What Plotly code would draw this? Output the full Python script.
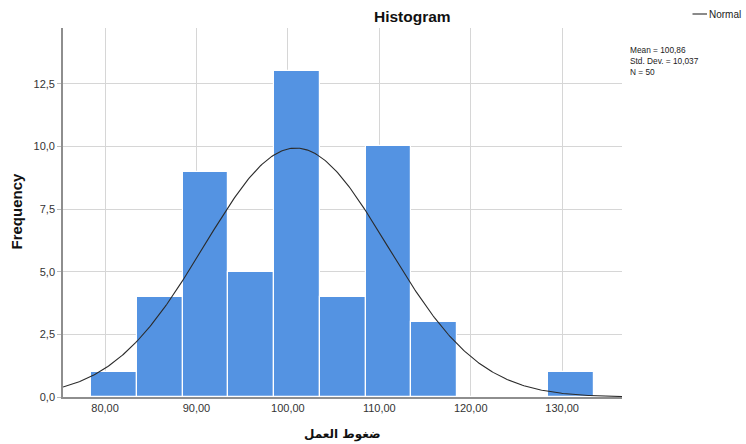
import numpy as np
import plotly.graph_objects as go

# Histogram of ضغوط العمل (bins of width 5, centred on 81, 86, ..., 131)
bin_centers = [81, 86, 91, 96, 101, 106, 111, 116, 121, 126, 131]
counts = [1, 4, 9, 5, 13, 4, 10, 3, 0, 0, 1]
bin_width = 5

mean = 100.86
std_dev = 10.037
n_obs = 50

x_ticks = [80, 90, 100, 110, 120, 130]
y_ticks = [0, 2.5, 5, 7.5, 10, 12.5]

x_range = [75.4, 136.55]
y_range = [0, 14.73]

# Normal curve scaled to the histogram counts
xs = np.linspace(x_range[0], x_range[1], 400)
ys = n_obs * bin_width * np.exp(-0.5 * ((xs - mean) / std_dev) ** 2) / (std_dev * np.sqrt(2 * np.pi))

FONT = "Liberation Sans, Arial, DejaVu Sans, sans-serif"

fig = go.Figure()
fig.add_trace(go.Bar(
    x=bin_centers, y=counts, width=bin_width,
    marker=dict(color="rgb(84,147,226)", line=dict(color="white", width=1.2)),
    showlegend=False, hoverinfo="x+y",
))
fig.add_trace(go.Scatter(
    x=xs, y=ys, mode="lines",
    line=dict(color="#2b2b2b", width=1.1),
    showlegend=False, name="Normal",
))

# Plot area in pixels: left 63, right 622, top 28, bottom 397
L, R, T, B = 63, 622, 28, 397
W, H = R - L, B - T


def px(xp):
    return (xp - L) / W


def py(yp):
    return (B - yp) / H


def comma(v, digits):
    return f"{v:.{digits}f}".replace(".", ",")


stats_text = "<br>".join([
    f"Mean = {comma(mean, 2)}",
    f"Std. Dev. = {comma(std_dev, 3)}",
    f"N = {n_obs}",
])

annotations = [
    dict(text="<b>Histogram</b>", x=px(412), y=py(16), xref="paper", yref="paper",
         showarrow=False, font=dict(size=15.5, color="#111", family=FONT),
         xanchor="center", yanchor="middle"),
    dict(text="Normal", x=px(708), y=py(14), xref="paper", yref="paper",
         showarrow=False, font=dict(size=10, color="#222", family=FONT),
         xanchor="left", yanchor="middle", borderpad=0),
    dict(text=stats_text, x=px(629), y=py(44), align="left",
         xref="paper", yref="paper", showarrow=False,
         font=dict(size=8.3, color="#222", family=FONT),
         xanchor="left", yanchor="top", borderpad=0),
    dict(text="<b>Frequency</b>", x=px(15.5), y=py(211), xref="paper", yref="paper",
         showarrow=False, textangle=-90, font=dict(size=15, color="#111", family=FONT),
         xanchor="center", yanchor="middle"),
    dict(text="<b>ضغوط العمل</b>", x=px(342), y=py(435), xref="paper", yref="paper",
         showarrow=False, font=dict(size=12, color="#111", family="DejaVu Sans, sans-serif"),
         xanchor="center", yanchor="middle"),
]

shapes = [
    # legend line sample
    dict(type="line", xref="paper", yref="paper", x0=px(692.5), x1=px(707),
         y0=py(14), y1=py(14), line=dict(color="#2b2b2b", width=1.1)),
]

fig.update_layout(
    width=746, height=444,
    margin=dict(l=L, r=746 - R, t=T, b=444 - B, pad=0),
    paper_bgcolor="white", plot_bgcolor="white",
    separators=",.",
    bargap=0,
    annotations=annotations,
    shapes=shapes,
    font=dict(family=FONT, size=11, color="#333"),
    xaxis=dict(
        range=x_range, tickvals=x_ticks, tickformat=".2f",
        showgrid=True, gridcolor="#d6d6d6", gridwidth=1.3,
        showline=True, linecolor="#8e8e8e", linewidth=1.6,
        ticks="", tickfont=dict(size=11, color="#333"), zeroline=False,
    ),
    yaxis=dict(
        range=y_range, tickvals=y_ticks, tickformat=".1f",
        showgrid=True, gridcolor="#d6d6d6", gridwidth=1.3,
        showline=True, linecolor="#8e8e8e", linewidth=1.6,
        ticks="outside", ticklen=4, tickcolor="#bbbbbb",
        tickfont=dict(size=11, color="#333"), zeroline=False,
    ),
)

fig.write_html("out.html")
